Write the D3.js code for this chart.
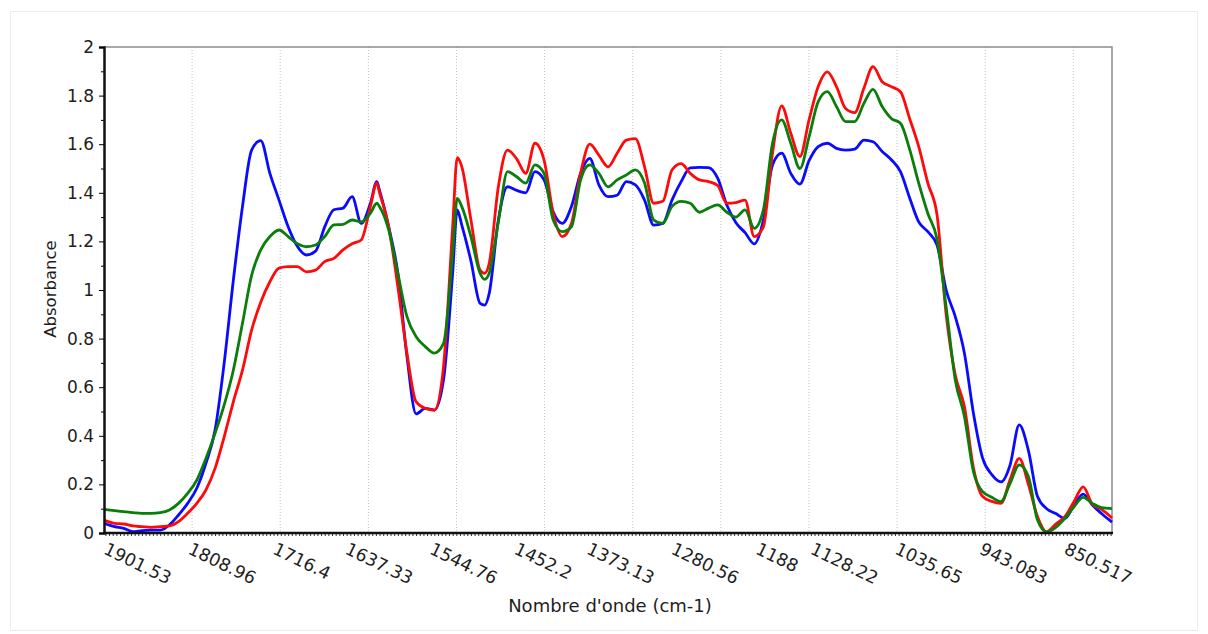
<!DOCTYPE html>
<html>
<head>
<meta charset="utf-8">
<script src="https://cdn.jsdelivr.net/npm/d3@7"></script>
<style>
  html, body { margin: 0; padding: 0; background: #fff; }
  text { font-family: "DejaVu Sans", Verdana, sans-serif; fill: #1e1e1e; }
</style>
</head>
<body>
<div id="graph"></div>
<script>
// =================================== DATA ===================================

// Nombre d'onde (cm-1), shared by the three spectra
const wavenumbers = [
  1901.5, 1890, 1880, 1870, 1860, 1850, 1840, 1830, 1820, 1810,
  1800, 1790, 1780, 1770, 1760, 1750, 1740, 1730, 1720, 1710,
  1700, 1690, 1680, 1670, 1660, 1650, 1640, 1630, 1620, 1610,
  1603, 1600, 1590, 1580, 1570, 1560, 1550, 1540, 1530, 1520,
  1515, 1510, 1500, 1490, 1485, 1480, 1470, 1460, 1450, 1440,
  1430, 1420, 1410, 1400, 1390, 1380, 1370, 1360, 1350, 1340,
  1330, 1320, 1310, 1300, 1290, 1280, 1270, 1260, 1250, 1240,
  1230, 1220, 1210, 1200, 1190, 1180, 1170, 1160, 1150, 1140,
  1130, 1120, 1110, 1100, 1090, 1080, 1070, 1060, 1050, 1040,
  1030, 1020, 1010, 1000, 990, 980, 970, 960, 950, 940,
  930, 920, 910, 900, 890, 880, 870, 860, 850, 840,
  830, 820, 810, 798.5
]

const absBlue = [
  0.04, 0.026, 0.019, 0.006, 0.01, 0.012, 0.012, 0.033, 0.074, 0.122,
  0.184, 0.287, 0.424, 0.7, 1.04, 1.343, 1.576, 1.615, 1.48, 1.37,
  1.26, 1.18, 1.144, 1.16, 1.26, 1.33, 1.337, 1.384, 1.274, 1.357,
  1.446, 1.41, 1.26, 1.07, 0.726, 0.49, 0.513, 0.506, 0.63, 1.07,
  1.33, 1.267, 1.12, 0.945, 0.938, 0.986, 1.288, 1.425, 1.41, 1.4,
  1.487, 1.453, 1.322, 1.274, 1.344, 1.48, 1.542, 1.433, 1.384, 1.39,
  1.446, 1.433, 1.37, 1.267, 1.274, 1.37, 1.446, 1.503, 1.505, 1.504,
  1.46, 1.35, 1.277, 1.236, 1.19, 1.288, 1.514, 1.563, 1.48, 1.436,
  1.532, 1.59, 1.604, 1.583, 1.576, 1.58, 1.617, 1.61, 1.57, 1.536,
  1.487, 1.38, 1.28, 1.24, 1.185, 1.0, 0.89, 0.74, 0.49, 0.307,
  0.24, 0.21, 0.28, 0.445, 0.34, 0.15, 0.1, 0.08, 0.06, 0.115,
  0.16, 0.115, 0.08, 0.045
]

const absRed = [
  0.053, 0.04, 0.037, 0.029, 0.026, 0.023, 0.026, 0.029, 0.047, 0.081,
  0.122, 0.177, 0.266, 0.396, 0.54, 0.67, 0.835, 0.95, 1.034, 1.09,
  1.096, 1.096, 1.075, 1.082, 1.117, 1.13, 1.165, 1.19, 1.206, 1.343,
  1.44, 1.4, 1.26, 1.014, 0.74, 0.54, 0.513, 0.506, 0.685, 1.26,
  1.545, 1.508, 1.288, 1.082, 1.069, 1.11, 1.425, 1.576, 1.54, 1.48,
  1.604, 1.535, 1.316, 1.22, 1.274, 1.48, 1.6, 1.555, 1.507, 1.563,
  1.617, 1.623, 1.507, 1.357, 1.365, 1.494, 1.52, 1.48, 1.453, 1.446,
  1.43, 1.357, 1.36, 1.37, 1.22, 1.26, 1.563, 1.758, 1.645, 1.549,
  1.7, 1.837, 1.898, 1.837, 1.747, 1.73, 1.83, 1.919, 1.857, 1.837,
  1.816, 1.706, 1.59, 1.44, 1.31, 0.9, 0.65, 0.52, 0.266, 0.15,
  0.13, 0.122, 0.22, 0.307, 0.2, 0.067, 0.005, 0.037, 0.067, 0.13,
  0.19, 0.118, 0.097, 0.062
]

const absGreen = [
  0.097, 0.092, 0.088, 0.084, 0.081, 0.081, 0.084, 0.095, 0.122, 0.163,
  0.218, 0.307, 0.41, 0.527, 0.67, 0.863, 1.06, 1.165, 1.22, 1.247,
  1.22, 1.19, 1.178, 1.185, 1.22, 1.268, 1.27, 1.288, 1.28, 1.316,
  1.357, 1.343, 1.247, 1.069, 0.89, 0.808, 0.767, 0.74, 0.78, 1.15,
  1.377, 1.343, 1.22, 1.069, 1.044, 1.069, 1.28, 1.487, 1.466, 1.44,
  1.515, 1.48, 1.288, 1.24, 1.26, 1.453, 1.515, 1.48, 1.425, 1.453,
  1.473, 1.494, 1.44, 1.288, 1.274, 1.344, 1.365, 1.357, 1.32, 1.337,
  1.35, 1.32, 1.3, 1.33, 1.254, 1.33, 1.604, 1.7, 1.604, 1.5,
  1.63, 1.775, 1.816, 1.755, 1.693, 1.693, 1.768, 1.826, 1.755, 1.706,
  1.686, 1.58, 1.44, 1.315, 1.21, 0.93, 0.63, 0.48, 0.25, 0.17,
  0.147, 0.129, 0.204, 0.28, 0.232, 0.053, 0.004, 0.023, 0.06, 0.108,
  0.147, 0.122, 0.104, 0.1
]

// Axis labels as printed on the chart
const xTickLabels = ['1901.53', '1808.96', '1716.4', '1637.33', '1544.76', '1452.2',
  '1373.13', '1280.56', '1188', '1128.22', '1035.65', '943.083', '850.517']
const xGridLines = [1805.1, 1708.7, 1612.2, 1515.8, 1419.4, 1322.9, 1226.5, 1130.1, 1033.7, 937.2, 840.8]
const yTicks = [0, 0.2, 0.4, 0.6, 0.8, 1, 1.2, 1.4, 1.6, 1.8, 2]
const yMinorTicks = [0.1, 0.3, 0.5, 0.7, 0.9, 1.1, 1.3, 1.5, 1.7, 1.9]

const series = [
  { name: 'bleu', color: '#0a0aff', values: absBlue },
  { name: 'rouge', color: '#ff0a0a', values: absRed },
  { name: 'vert', color: '#0a7d0a', values: absGreen }
]

// =================================== GRAPH SETTINGS ===================================

const width = 1208
const height = 634
const margin = { top: 47, right: 96, bottom: 101, left: 104 }
const innerW = width - margin.left - margin.right
const innerH = height - margin.top - margin.bottom

const svg = d3.select('#graph')
  .append('svg')
  .attr('width', width)
  .attr('height', height)

// faint frame around the whole chart
svg.append('rect')
  .attr('x', 10.5).attr('y', 11.5)
  .attr('width', 1187).attr('height', 619)
  .attr('fill', 'none')
  .attr('stroke', '#ececec')

const x = d3.scaleLinear()
  .domain([1901.53, 798.5])
  .range([margin.left, margin.left + innerW])

const y = d3.scaleLinear()
  .domain([0, 2])
  .range([margin.top + innerH, margin.top])

// =================================== GRID ===================================

svg.append('g')
  .selectAll('line')
  .data(xGridLines)
  .enter().append('line')
  .attr('x1', d => x(d)).attr('x2', d => x(d))
  .attr('y1', y(2)).attr('y2', y(0))
  .attr('stroke', '#c4c4c4')
  .attr('stroke-dasharray', '1,2')

// top and right border of the plot area
svg.append('path')
  .attr('d', `M${x(1901.53)},${y(2)}H${x(798.5)}V${y(0)}`)
  .attr('fill', 'none')
  .attr('stroke', '#8c8c8c')
  .attr('stroke-width', 1.5)

// =================================== LINES ===================================

const line = d3.line()
  .x((d, i) => x(wavenumbers[i]))
  .y(d => y(d))
  .curve(d3.curveMonotoneX)

svg.append('g')
  .selectAll('path')
  .data(series)
  .enter().append('path')
  .attr('d', d => line(d.values))
  .attr('fill', 'none')
  .attr('stroke', d => d.color)
  .attr('stroke-width', 2.8)
  .attr('stroke-linejoin', 'round')

// =================================== AXES ===================================

// y minor ticks
svg.append('g')
  .attr('transform', `translate(${margin.left},0)`)
  .call(d3.axisLeft(y).tickValues(yMinorTicks).tickSize(3).tickFormat(''))
  .call(g => g.select('.domain').remove())

const yAxis = svg.append('g')
  .attr('transform', `translate(${margin.left},0)`)
  .call(d3.axisLeft(y).tickValues(yTicks).tickSize(5).tickPadding(5)
    .tickFormat(d => String(+d.toFixed(1))))
yAxis.select('.domain').attr('stroke', '#111').attr('stroke-width', 2.5)
yAxis.selectAll('text').style('font-size', '17px').attr('fill', '#1e1e1e')

// x comb of small ticks under the axis
svg.append('g')
  .attr('transform', `translate(0,${y(0)})`)
  .call(d3.axisBottom(x).tickValues(d3.range(1900, 799, -4)).tickSize(3).tickFormat(''))
  .call(g => g.select('.domain').remove())
  .selectAll('line').attr('stroke', '#333')

const xAxis = svg.append('g')
  .attr('transform', `translate(0,${y(0)})`)
  .call(d3.axisBottom(x).tickValues(xTickLabels.map(Number)).tickSize(0)
    .tickFormat((d, i) => xTickLabels[i]))
xAxis.select('.domain')
  .attr('d', `M${x(1901.53) - 1},0H${x(798.5) + 1}`)
  .attr('stroke', '#111').attr('stroke-width', 2.5)
xAxis.selectAll('text')
  .attr('y', 0).attr('dy', 0)
  .attr('text-anchor', 'start')
  .attr('transform', 'translate(-2,20) rotate(26)')
  .style('font-size', '17.5px')
  .attr('fill', '#1e1e1e')

// =================================== LABELS ===================================

svg.append('text')
  .attr('transform', 'translate(56,289) rotate(-90)')
  .attr('text-anchor', 'middle')
  .style('font-size', '16.5px')
  .text('Absorbance')

svg.append('text')
  .attr('x', 610).attr('y', 612)
  .attr('text-anchor', 'middle')
  .style('font-size', '18px')
  .text("Nombre d'onde (cm-1)")
</script>
</body>
</html>
